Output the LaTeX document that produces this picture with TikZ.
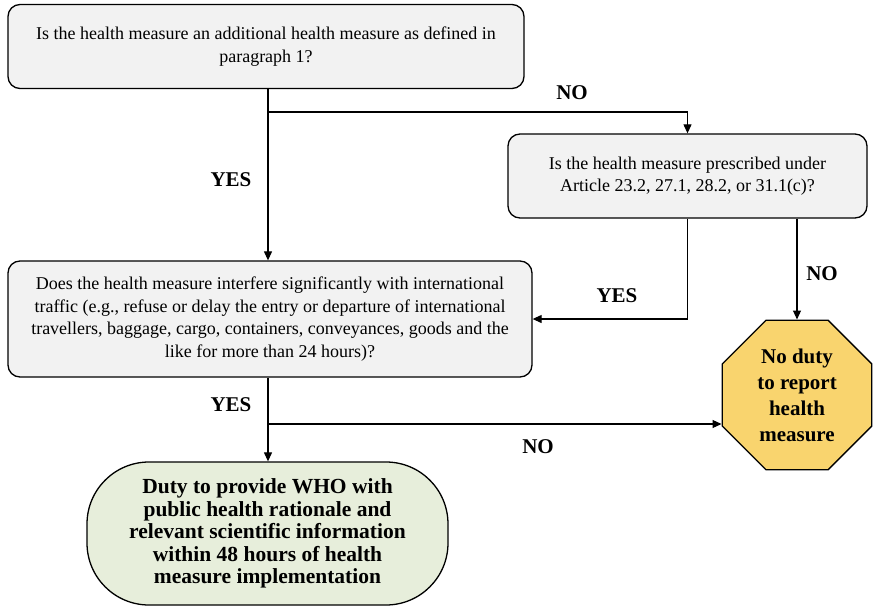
\documentclass[tikz,border=0pt]{standalone}
\usepackage{fontspec}
\setmainfont{Liberation Serif}
\usetikzlibrary{shapes.geometric,arrows.meta}
\definecolor{qgray}{HTML}{F2F2F2}
\definecolor{stopgold}{HTML}{F9D46E}
\definecolor{dutygreen}{HTML}{E7EEDB}
\begin{document}
\begin{tikzpicture}[x=1pt,y=-1pt]
	\tikzstyle{every node}=[font=\fontsize{18}{22.5}\selectfont]
	\tikzstyle{question}=[draw, line width=1.3pt, rounded corners=12pt, fill=qgray, align=center, inner sep=0pt]
	\tikzstyle{answer}=[font=\fontsize{21}{24}\selectfont\bfseries]
	\tikzstyle{flow}=[line width=1.1pt, -{Triangle[length=9pt,width=8pt]}]
	\useasboundingbox (0,0) rectangle (873,608);
	
	\node[question, minimum width=516pt, minimum height=84pt] (para) at (266,46.5)
		{Is the health measure an additional health measure as defined in\\paragraph 1?};
	\node[question, minimum width=359pt, minimum height=84pt] (article) at (687.5,176)
		{Is the health measure prescribed under\\Article 23.2, 27.1, 28.2, or 31.1(c)?};
	\node[question, minimum width=524pt, minimum height=116pt] (traffic) at (270,319)
		{Does the health measure interfere significantly with international\\
		traffic (e.g., refuse or delay the entry or departure of international\\
		travellers, baggage, cargo, containers, conveyances, goods and the\\
		like for more than 24 hours)?};
	\node[regular polygon, regular polygon sides=8, minimum size=162pt, draw, line width=1.3pt,
		fill=stopgold, inner sep=0pt, align=center,
		font=\fontsize{21}{26}\selectfont\bfseries] (stop) at (797,395)
		{No duty\\to report\\health\\measure};
	\node[draw, line width=1.3pt, rounded corners=62pt, fill=dutygreen, align=center,
		minimum width=361pt, minimum height=143pt, inner sep=0pt,
		font=\fontsize{21.5}{22.5}\selectfont\bfseries] (duty) at (267.5,533.5)
		{Duty to provide WHO with\\public health rationale and\\relevant scientific information\\
		within 48 hours of health\\measure implementation};
	
	\coordinate (col) at (268,0);
	\coordinate (split1) at (268,112);
	\coordinate (split2) at (268,424);
	
	\draw[flow] (para.south -| col) -- (traffic.north -| col);
	\draw[flow] (split1) -| (article.north);
	\draw[flow] (article.south) |- (traffic.east);
	\draw[flow] (article.south -| stop.north) -- (stop.north);
	\draw[flow] (traffic.south -| col) -- (duty.north -| col);
	\draw[flow] (split2) -- (split2 -| stop.west);
	
	\node[answer] (yes1) at (231,180) {YES};
	\node[answer] (no1) at (572,93) {NO};
	\node[answer] (yes2) at (617,296) {YES};
	\node[answer] (no2) at (822,274) {NO};
	\node[answer] (yes3) at (231,405) {YES};
	\node[answer] (no3) at (538,447) {NO};
\end{tikzpicture}
\end{document}
